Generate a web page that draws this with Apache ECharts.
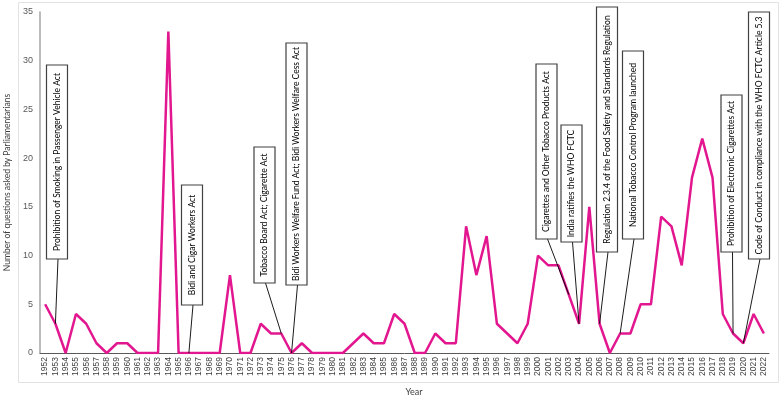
<!DOCTYPE html>
<html>
<head>
<meta charset="utf-8">
<script src="https://cdn.jsdelivr.net/npm/echarts@6/dist/echarts.min.js"></script>
<style>
html,body{margin:0;padding:0;background:#fff;}
#main{width:781px;height:398px;}
</style>
</head>
<body>
<div id="main"></div>
<script>
var years = ['1952','1953','1954','1955','1956','1957','1958','1959','1960','1961','1962','1963','1964','1965','1966','1967','1968','1969','1970','1971','1972','1973','1974','1975','1976','1977','1978','1979','1980','1981','1982','1983','1984','1985','1986','1987','1988','1989','1990','1991','1992','1993','1994','1995','1996','1997','1998','1999','2000','2001','2002','2003','2004','2005','2006','2007','2008','2009','2010','2011','2012','2013','2014','2015','2016','2017','2018','2019','2020','2021','2022'];
var questions = [5,3,0,4,3,1,0,1,1,0,0,0,33,0,0,0,0,0,8,0,0,3,2,2,0,1,0,0,0,0,1,2,1,1,4,3,0,0,2,1,1,13,8,12,3,2,1,3,10,9,9,6,3,15,3,0,2,2,5,5,14,13,9,18,22,18,4,2,1,4,2];

// policy events and the year each leader line points at
var eventYears = ['1953','1966','1975','1976','2003','2004','2006','2008','2019','2020'];
var eventTexts = [
	'Prohibition of Smoking in Passenger Vehicle Act',
	'Bidi and Cigar Workers Act',
	'Tobacco Board Act; Cigarette Act',
	'Bidi Workers Welfare Fund Act; Bidi Workers Welfare Cess Act',
	'Cigarettes and Other Tobacco Products Act',
	'India ratifies the WHO FCTC',
	'Regulation 2.3.4 of the Food Safety and Standards Regulation',
	'National Tobacco Control Program launched',
	'Prohibition of Electronic Cigarettes Act',
	'Code of Conduct in compliance with the WHO FCTC Article 5.3'
];

// where the label boxes sit (pixels): centre x, top, bottom
var boxLayout = [[57,65,259],[192,185,305],[264.5,147,283],[296.5,43,285],[546.5,64,239],[571.5,125,242],[607,7,252],[633,51,239],[731.5,95,252],[759,12,259]];

var chart = echarts.init(document.getElementById('main'));

var option = {
	animation: false,
	grid: {left: 40, right: 12, top: 12, bottom: 45, outerBoundsMode: 'none', containLabel: false},
	xAxis: {
		type: 'category',
		data: years,
		boundaryGap: true,
		axisLine: {lineStyle: {color: '#595959', width: 1}},
		axisTick: {show: false},
		axisLabel: {
			interval: 0,
			rotate: 90,
			margin: 4,
			fontSize: 8.5,
			color: '#404040',
			fontFamily: 'Liberation Sans'
		}
	},
	yAxis: {
		type: 'value',
		min: 0,
		max: 35,
		interval: 5,
		name: 'Number of questions asked by Parliamentarians',
		nameLocation: 'middle',
		nameGap: 28,
		nameTextStyle: {fontSize: 8.5, color: '#404040', fontFamily: 'Lato'},
		axisLine: {show: true, lineStyle: {color: '#a6a6a6', width: 1.5}},
		axisTick: {show: false},
		splitLine: {show: false},
		axisLabel: {fontSize: 9, color: '#595959', margin: 7, fontFamily: 'Liberation Sans'}
	},
	series: [{
		type: 'line',
		data: questions,
		symbol: 'none',
		lineStyle: {color: '#e2178f', width: 2.5},
		z: 2
	}]
};

chart.setOption(option);

// annotation boxes, leader lines and frame
function buildGraphics() {
	var g = [];
	g.push({
		type: 'rect', silent: true, z: 0,
		shape: {x: 18.5, y: 2.5, width: 760, height: 380},
		style: {fill: 'none', stroke: '#e3e3e3', lineWidth: 1}
	});
	g.push({
		type: 'text', z: 10,
		x: 414, y: 392,
		style: {text: 'Year', font: '9px Lato', fill: '#404040', align: 'center', verticalAlign: 'middle'}
	});
	for (var i = 0; i < eventYears.length; i++) {
		var idx = years.indexOf(eventYears[i]);
		var pt = chart.convertToPixel({seriesIndex: 0}, [idx, questions[idx]]);
		var b = boxLayout[i];
		g.push({
			type: 'line', z: 20, silent: true,
			shape: {x1: b[0] + 1, y1: b[2], x2: pt[0], y2: pt[1]},
			style: {stroke: '#000', lineWidth: 0.9}
		});
		g.push({
			type: 'rect', z: 21, silent: true,
			shape: {x: b[0] - 10.5, y: b[1], width: 21, height: b[2] - b[1]},
			style: {fill: '#fff', stroke: '#404040', lineWidth: 1.2}
		});
		g.push({
			type: 'text', z: 22, silent: true,
			x: b[0], y: (b[1] + b[2]) / 2,
			rotation: Math.PI / 2,
			style: {text: eventTexts[i], font: '8.5px Lato', fill: '#000', align: 'center', verticalAlign: 'middle'}
		});
	}
	return g;
}

chart.setOption({graphic: buildGraphics()});
</script>
</body>
</html>
